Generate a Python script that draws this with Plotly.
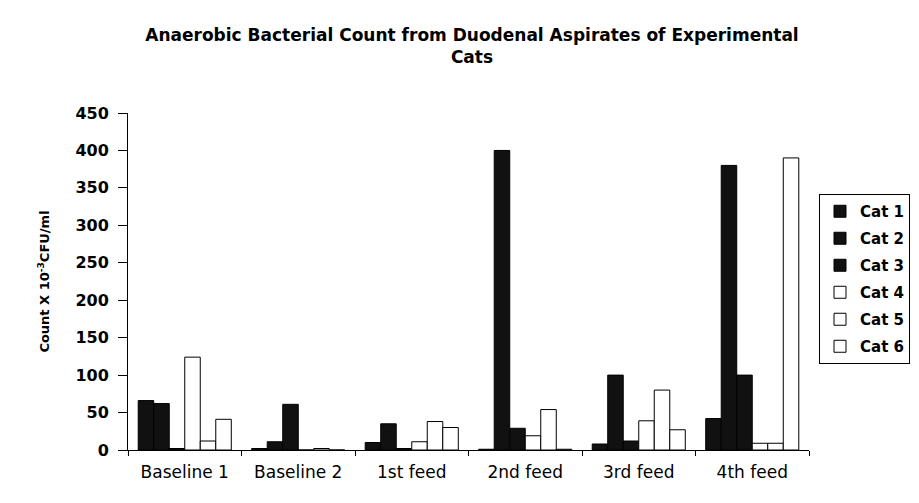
import plotly.graph_objects as go

feeds = ['Baseline 1', 'Baseline 2', '1st feed', '2nd feed', '3rd feed', '4th feed']
cats = ['Cat 1', 'Cat 2', 'Cat 3', 'Cat 4', 'Cat 5', 'Cat 6']

cat1 = [66, 2, 10, 1, 8, 42]
cat2 = [62, 11, 35, 400, 100, 380]
cat3 = [2, 61, 2, 29, 12, 100]
cat4 = [124, 0, 11, 19, 39, 9]
cat5 = [12, 2, 38, 54, 80, 9]
cat6 = [41, 0, 30, 1, 27, 390]

series = [cat1, cat2, cat3, cat4, cat5, cat6]
fills = ['#111111', '#111111', '#111111', 'white', 'white', 'white']

# page body has an 8px margin, so work in figure pixels = screen pixels - 8
OFF = 8
W, H = 919 - OFF, 503 - OFF
ml, mr, mt, mb = 128 - OFF, W - (809 - OFF), 113 - OFF, H - (450 - OFF)
pw = W - ml - mr
ph = H - mt - mb
font = 'DejaVu Sans, Arial, sans-serif'


def px_x(x):
    return (x - OFF - ml) / pw


def px_y(y):
    return (H - mb - (y - OFF)) / ph


fig = go.Figure()
for name, vals, col in zip(cats, series, fills):
    fig.add_trace(go.Bar(x=feeds, y=vals, name=name, legendgroup=name,
                         marker=dict(color=col, line=dict(color='black', width=1))))

# category labels sit a bit left of the groups, as in the original
fig.add_trace(go.Scatter(x=feeds, y=[0] * len(feeds), xaxis='x2', mode='markers',
                         marker=dict(opacity=0), showlegend=False, hoverinfo='skip'))

fig.update_layout(
    width=W, height=H,
    margin=dict(l=ml, r=mr, t=mt, b=mb, autoexpand=False),
    paper_bgcolor='white', plot_bgcolor='white',
    font=dict(family=font, color='black', size=13),
    title=dict(text='<b>Anaerobic Bacterial Count from Duodenal Aspirates of Experimental<br>Cats</b>',
               x=(472 - OFF) / W, xanchor='center', y=1 - 33 / H, yanchor='top',
               font=dict(size=17)),
    barmode='group', bargap=0.18, bargroupgap=0,
    xaxis=dict(type='category', showticklabels=False, showline=True, linecolor='black',
               linewidth=1, ticks='outside', tickson='boundaries', ticklen=5,
               tickcolor='black', showgrid=False, zeroline=False, automargin=False),
    xaxis2=dict(type='category', overlaying='x', anchor='y', side='bottom',
                domain=[px_x(132.5), px_x(713.5)],
                range=[-0.5, 5.5], showline=False, ticks='', showgrid=False,
                tickfont=dict(size=17), ticklabelstandoff=10, automargin=False),
    yaxis=dict(range=[0, 450], tickvals=list(range(0, 451, 50)), showline=True,
               linecolor='black', linewidth=1, ticks='outside', ticklen=9,
               tickcolor='black', showgrid=False, zeroline=False, automargin=False,
               tickfont=dict(size=16, weight='bold'), ticklabelstandoff=6,
               title=dict(text='<b>Count X 10<sup>-3</sup>CFU/ml</b>', font=dict(size=13),
                          standoff=22)),
    legend=dict(x=px_x(819), xanchor='left', y=px_y(194),
                yanchor='top', bordercolor='black', borderwidth=1,
                font=dict(size=15, weight='bold'), itemwidth=30, tracegroupgap=4.5),
)

fig.write_html('out.html')
